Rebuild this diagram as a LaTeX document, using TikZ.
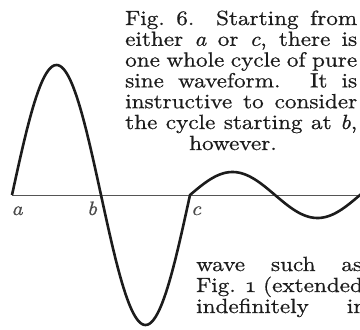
\documentclass[tikz,border=0pt]{standalone}
\usepackage{fontspec}
\setmainfont{lmroman10-regular.otf}[FakeStretch=1.13, FakeBold=0.7,
  ItalicFont=lmroman10-italic.otf]
\usepackage{xcolor}
\definecolor{ink}{HTML}{1C1C1C}
\newcommand{\jline}[2]{\makebox[#1][s]{#2}}

\begin{document}
\begin{tikzpicture}[x=1pt, y=-1pt,
    txt/.style={inner sep=0pt, anchor=base west, text=ink,
      font=\fontsize{20.5}{21}\selectfont},
    lbl/.style={inner sep=0pt, anchor=base, text=ink!80,
      font=\fontsize{19.5}{21}\selectfont\itshape}]
    % Khung hình
    \useasboundingbox (0,0) rectangle (360,330);
    \clip (0,0) rectangle (360,330);

    % Trục
    \coordinate (a) at (12,195);
    \coordinate (b) at (101,195);
    \coordinate (c) at (190,195);
    \coordinate (r) at (362,195);
    \draw[line width=0.8pt, ink!75] (a) -- (r);
    \node[lbl] (la) at (17,215) {a};
    \node[lbl] (lb) at (92,215) {b};
    \node[lbl] (lc) at (196,215) {c};

    % Đường cong
    \draw[line width=2.6pt, ink, line join=round, samples=120, domain=12:190]
        plot (\x, {195 - 130*sin((\x-12)/178*360)})
        -- plot[domain=190:366, samples=80] (\x, {195 - 23*sin((\x-190)/170*360)});

    % Chú thích
    \foreach \txt [count=\i] in {{Fig.\ 6.  Starting from},
        {either \textit{a} or \textit{c}, there is},
        {one whole cycle of pure},
        {sine waveform.  It is},
        {instructive to consider},
        {the cycle starting at \textit{b},}}
        \node[txt] (cap\i) at (125, {25+20.8*(\i-1)}) {\jline{232pt}{\txt}};
    \node[txt] (cap7) at (189,150) {however.};

    % Văn bản bên dưới
    \node[txt] (body1) at (196,271) {\jline{166pt}{wave such as}};
    \node[txt] (body2) at (196,292) {Fig. \oldstylenums{1} (extended};
    \node[txt] (body3) at (196,313) {\jline{170pt}{indefinitely in}};
\end{tikzpicture}
\end{document}
